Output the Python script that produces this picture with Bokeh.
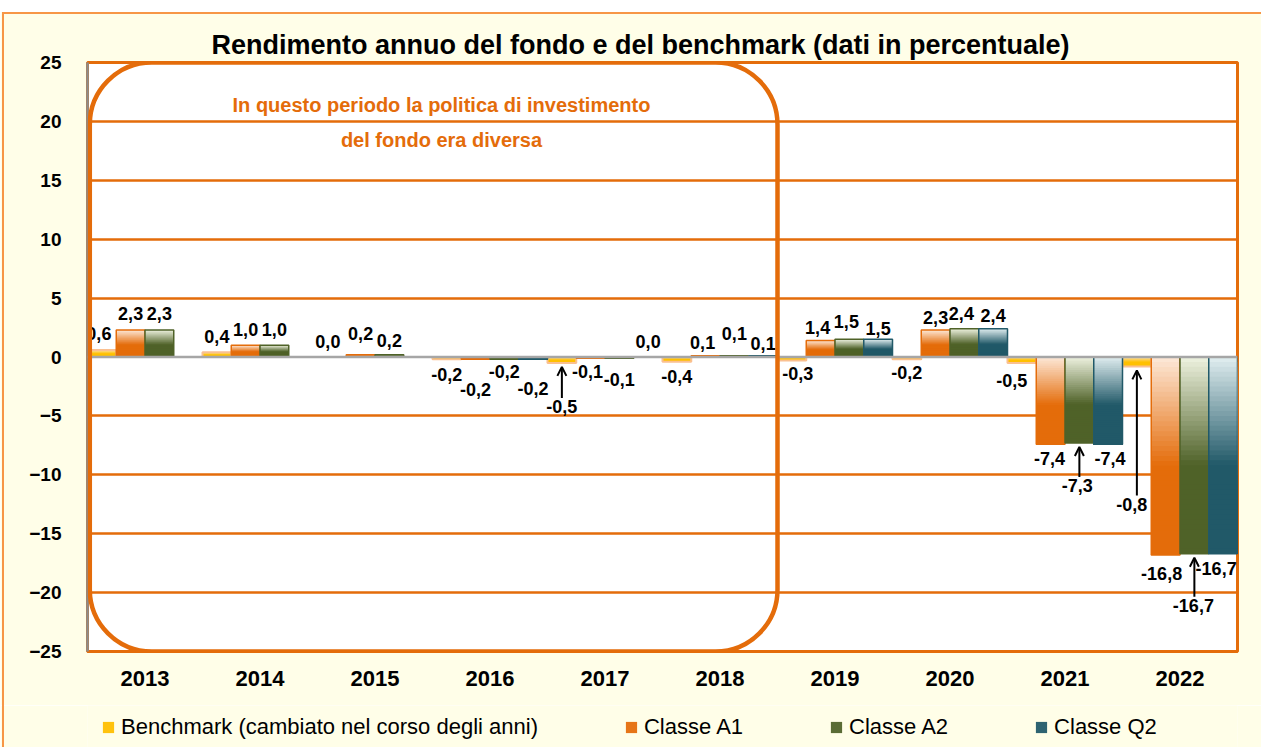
import numpy as np
from bokeh.plotting import figure
from bokeh.layouts import column
from bokeh.models import (ColumnDataSource, FixedTicker, Span, BoxAnnotation, Label,
                          Arrow, OpenHead, Legend, LegendItem, Range1d)
from bokeh.core.properties import value
from bokeh.embed import file_html
from bokeh.resources import INLINE

# ---------------- data ----------------
years = ["2013", "2014", "2015", "2016", "2017", "2018", "2019", "2020", "2021", "2022"]
benchmark = [0.6, 0.4, 0.0, -0.2, -0.5, -0.4, -0.3, -0.2, -0.5, -0.8]
classe_a1 = [2.3, 1.0, 0.2, -0.2, -0.1, 0.1, 1.4, 2.3, -7.4, -16.8]
classe_a2 = [2.3, 1.0, 0.2, -0.2, -0.1, 0.1, 1.5, 2.4, -7.3, -16.7]
classe_q2 = [None, None, None, -0.2, 0.0, 0.1, 1.5, 2.4, -7.4, -16.7]
series_names = ["Benchmark (cambiato nel corso degli anni)", "Classe A1", "Classe A2", "Classe Q2"]
y_ticks = [-25, -20, -15, -10, -5, 0, 5, 10, 15, 20, 25]
title_text = "Rendimento annuo del fondo e del benchmark (dati in percentuale)"
note_lines = ["In questo periodo la politica di investimento", "del fondo era diversa"]
note_last_year = "2018"

# ---------------- styles ----------------
FONT = value("Liberation Sans")
ORANGE = "#E46C0A"
CREAM = "#FFFEE8"
W, H = 1261, 705
LEG_H = 42
ML, MR, MT, MB = 87, 24, 62, 54
FRAME_H = H - MT - MB
PXU = FRAME_H / 50.0  # pixels per data unit on y
offsets = [-0.375, -0.125, 0.125, 0.375]
bar_w = 0.25
styles = [  # light, dark, outline, outline width
    ("#FCE0B8", "#FFC000", "#FAC090", 2.0),
    ("#FDE9D9", "#E46C0A", "#E46C0A", 1.5),
    ("#EEF2E0", "#4F6228", "#4F6228", 1.5),
    ("#E1EEF0", "#215968", "#215968", 1.5),
]
# label nudges (dx, dy) in pixels, dy = label centre relative to bar end, up positive
nudges = {
    (0, 0): (-3, 16), (0, 2): (-4, 16),
    (1, 2): (0, 21), (2, 2): (0, 14),
    (1, 3): (0, -30), (2, 3): (0, -12), (3, 3): (0, -29),
    (0, 4): (0, -44), (1, 4): (-3, -13), (2, 4): (0, -21),
    (1, 5): (-3, 13), (2, 5): (0, 22), (3, 5): (0, 12),
    (0, 6): (6, -13), (1, 6): (-3, 13), (2, 6): (-3, 18), (3, 6): (0, 11),
    (0, 7): (0, -13), (1, 7): (0, 12), (2, 7): (-3, 15), (3, 7): (0, 13),
    (0, 8): (-10, -18), (1, 8): (-1, -14), (2, 8): (-2, -43), (3, 8): (2, -14),
    (0, 9): (-5, -138), (1, 9): (-4, -19), (2, 9): (-1, -52), (3, 9): (-7, -15),
}
arrows_for = [(0, 4), (2, 8), (0, 9), (2, 9)]


def mix(c1, c2, t):
    a = [int(c1[k:k + 2], 16) for k in (1, 3, 5)]
    b = [int(c2[k:k + 2], 16) for k in (1, 3, 5)]
    return "#" + "".join(f"{int(round(x + (y - x) * t)):02x}" for x, y in zip(a, b))


p = figure(width=W, height=H, output_backend="svg", toolbar_location=None,
           x_range=Range1d(-0.5, 9.5), y_range=Range1d(-25, 25),
           min_border_left=ML, min_border_right=MR, min_border_top=MT, min_border_bottom=MB,
           border_fill_color=CREAM, background_fill_color="white")
p.outline_line_color = ORANGE
p.outline_line_width = 3

# title
p.title.text = title_text
p.title.align = "left"
p.title.offset = 124
p.title.standoff = 6
p.title.text_font = "Liberation Sans"
p.title.text_font_style = "bold"
p.title.text_font_size = "27px"
p.title.text_color = "black"

# grid
p.xgrid.visible = False
p.ygrid.ticker = FixedTicker(ticks=[t for t in y_ticks if t != 0])
p.ygrid.grid_line_color = ORANGE
p.ygrid.grid_line_width = 2.5

# axes
p.yaxis.ticker = FixedTicker(ticks=y_ticks)
p.yaxis.axis_line_color = "#8C8C8C"
p.yaxis.axis_line_width = 2.5
p.yaxis.major_tick_line_color = None
p.yaxis.minor_tick_line_color = None
p.yaxis.major_tick_out = 0
p.yaxis.major_tick_in = 0
p.yaxis.major_label_standoff = 26
p.yaxis.major_label_text_font = "Liberation Sans"
p.yaxis.major_label_text_font_style = "bold"
p.yaxis.major_label_text_font_size = "19px"
p.yaxis.major_label_text_color = "black"

p.xaxis.ticker = FixedTicker(ticks=list(range(len(years))))
p.xaxis.major_label_overrides = {i: y for i, y in enumerate(years)}
p.xaxis.axis_line_color = ORANGE
p.xaxis.axis_line_width = 3
p.xaxis.major_tick_line_color = None
p.xaxis.minor_tick_line_color = None
p.xaxis.major_tick_out = 0
p.xaxis.major_tick_in = 0
p.xaxis.major_label_standoff = 19
p.xaxis.major_label_text_font = "Liberation Sans"
p.xaxis.major_label_text_font_style = "bold"
p.xaxis.major_label_text_font_size = "22px"
p.xaxis.major_label_text_color = "black"

# legend strip (a second, axis-less figure below the chart); its ranges lie away from the bars,
# so the series renderers drawn there only provide the legend swatches
lf = figure(width=W, height=LEG_H, output_backend="svg", toolbar_location=None,
            x_axis_type=None, y_axis_type=None, min_border=0,
            x_range=Range1d(-1000, -999), y_range=Range1d(-1000, -999),
            border_fill_color=CREAM, background_fill_color=CREAM)
lf.outline_line_color = None
lf.grid.visible = False

# bars with vertical gradient (overlapping strips, drawn top to bottom), one renderer per series
all_series = [benchmark, classe_a1, classe_a2, classe_q2]
K = 40
labels = dict(x=[], y=[], text=[], xo=[], yo=[])
legend_renderers = []
for s, vals in enumerate(all_series):
    light, dark, edge, lw = styles[s]
    strips = dict(left=[], right=[], top=[], bottom=[], color=[])
    outl = dict(left=[], right=[], top=[], bottom=[])
    for i, v in enumerate(vals):
        if v is None:
            continue
        xc = i + offsets[s]
        top, bot = max(v, 0.0), min(v, 0.0)
        if v != 0:
            for j in range(K):
                y0 = top - (top - bot) * j / K
                f = (j + 0.5) / K
                strips["left"].append(xc - bar_w / 2)
                strips["right"].append(xc + bar_w / 2)
                strips["top"].append(y0)
                strips["bottom"].append(bot)
                strips["color"].append(mix(light, dark, min(1.0, f / 0.55)))
            outl["left"].append(xc - bar_w / 2)
            outl["right"].append(xc + bar_w / 2)
            outl["top"].append(top)
            outl["bottom"].append(bot)
        dx, dy = nudges.get((s, i), (0, 16 if v >= 0 else -15))
        labels["x"].append(xc)
        labels["y"].append(v)
        labels["text"].append(f"{v:.1f}".replace(".", ","))
        labels["xo"].append(dx)
        labels["yo"].append(-dy)
        if (s, i) in arrows_for:
            p.add_layout(Arrow(end=OpenHead(size=9, line_width=2, line_color="black"),
                               x_start=xc, y_start=v + (dy + 9) / PXU,
                               x_end=xc, y_end=v - 4 / PXU,
                               line_width=2, line_color="black"))
    src_fill = ColumnDataSource(strips)
    src_line = ColumnDataSource(outl)
    p.quad(left="left", right="right", top="top", bottom="bottom", fill_color="color",
           line_color=None, source=src_fill)
    p.quad(left="left", right="right", top="top", bottom="bottom", fill_color=None,
           line_color=edge, line_width=lw, source=src_line)
    lr_fill = lf.quad(left="left", right="right", top="top", bottom="bottom", fill_color="color",
                      line_color=None, source=src_fill)
    lr_line = lf.quad(left="left", right="right", top="top", bottom="bottom", fill_color=None,
                      line_color=edge, line_width=lw, source=src_line)
    legend_renderers.append([lr_fill, lr_line])

p.add_layout(Span(location=0, dimension="width", line_color="#A6A6A6", line_width=2.5))

p.text(x="x", y="y", text="text", x_offset="xo", y_offset="yo", source=ColumnDataSource(labels),
       text_font=FONT, text_font_style="bold", text_font_size="18px",
       text_align="center", text_baseline="middle", text_color="black")

# rounded box for the earlier period
p.add_layout(BoxAnnotation(left=-0.48, right=years.index(note_last_year) + 0.5, top=25, bottom=-25,
                           fill_alpha=0, line_color=ORANGE, line_alpha=1, line_width=4.5,
                           border_radius=62, level="overlay"))
for txt, yy in zip(note_lines, [21.35, 18.38]):
    p.add_layout(Label(x=2.578, y=yy, text=txt, text_font="Liberation Sans", text_font_style="bold",
                       text_font_size="20px", text_color=ORANGE, text_align="center",
                       text_baseline="middle"))

items = [LegendItem(label=name, renderers=legend_renderers[s], index=20)
         for s, name in enumerate(series_names)]
leg = Legend(items=items, orientation="horizontal", location=(14, 7),
             padding=0, margin=0, spacing=86, glyph_width=14, glyph_height=14,
             label_standoff=6, label_text_font="Liberation Sans", label_text_font_size="22px",
             label_text_color="black", background_fill_alpha=0, border_line_alpha=0)
lf.add_layout(leg, "center")

layout = column(p, lf, spacing=0)
# outer decorative frame of the original chart
layout.stylesheets = [
    ":host { position: relative; }"
    ":host::before { content: ''; position: absolute; left: 0; top: 0; width: 100%; height: 12px;"
    " background: white; z-index: 5; pointer-events: none; }"
    ":host::after { content: ''; position: absolute; left: 2px; top: 12px; width: calc(100% - 2px);"
    " height: calc(100% - 12px); box-sizing: border-box; border-top: 2.5px solid #F79646;"
    " border-left: 2.5px solid #F79646; z-index: 6; pointer-events: none; }"
]

open("out.html", "w").write(file_html(layout, INLINE))
